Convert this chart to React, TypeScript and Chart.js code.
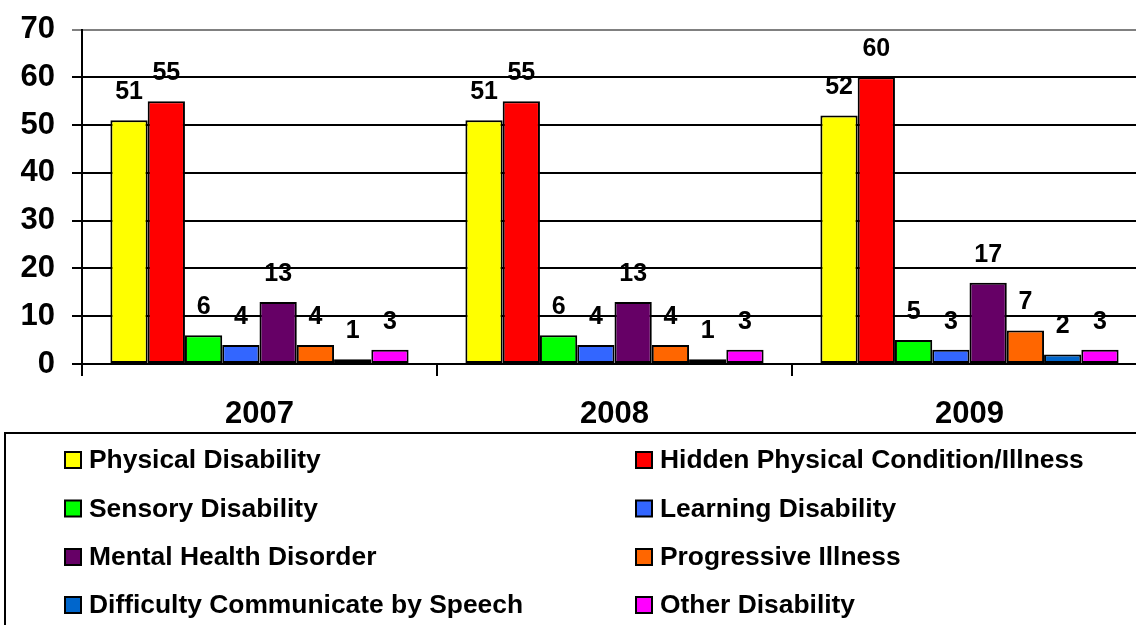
import React, { useEffect, useRef } from "react";
import { Chart, registerables } from "chart.js";

Chart.register(...registerables);

const categories = ["2007", "2008", "2009"];
const seriesNames = [
  "Physical Disability",
  "Hidden Physical Condition/Illness",
  "Sensory Disability",
  "Learning Disability",
  "Mental Health Disorder",
  "Progressive Illness",
  "Difficulty Communicate by Speech",
  "Other Disability",
];
const physical = [51, 51, 52];
const hidden = [55, 55, 60];
const sensory = [6, 6, 5];
const learning = [4, 4, 3];
const mental = [13, 13, 17];
const progressive = [4, 4, 7];
const speech = [1, 1, 2];
const other = [3, 3, 3];
const seriesValues = [physical, hidden, sensory, learning, mental, progressive, speech, other];
const seriesColors = ["#FFFF00", "#FF0000", "#00FF00", "#3366FF", "#660066", "#FF6600", "#0066CC", "#FF00FF"];
const yTicks = [0, 10, 20, 30, 40, 50, 60, 70];

const FONT = "'Liberation Sans', Arial, sans-serif";
const W = 1150;
const H = 625;

const labelsPlugin = {
  id: "valueLabels",
  afterDatasetsDraw(chart: any) {
    const ctx = chart.ctx;
    ctx.save();
    ctx.font = `bold 25px ${FONT}`;
    ctx.fillStyle = "#000";
    ctx.textAlign = "center";
    ctx.textBaseline = "middle";
    chart.data.datasets.forEach((ds: any, i: number) => {
      const meta = chart.getDatasetMeta(i);
      meta.data.forEach((bar: any, j: number) => {
        ctx.fillText(String(ds.data[j]), bar.x, bar.y - 28);
      });
    });
    ctx.restore();
  },
};

const legendPlugin = {
  id: "boxLegend",
  afterDraw(chart: any) {
    const ctx = chart.ctx;
    ctx.save();
    ctx.strokeStyle = "#000";
    ctx.lineWidth = 2;
    ctx.strokeRect(5, 433, W + 20, H);
    ctx.font = `bold 26.4px ${FONT}`;
    ctx.textAlign = "left";
    ctx.textBaseline = "middle";
    const colX = [65, 636];
    const rowY = [460, 508.5, 557, 605];
    chart.data.datasets.forEach((ds: any, i: number) => {
      const x = colX[i % 2];
      const y = rowY[Math.floor(i / 2)];
      ctx.fillStyle = ds.backgroundColor;
      ctx.fillRect(x, y - 8, 16, 16);
      ctx.lineWidth = 2;
      ctx.strokeStyle = "#000";
      ctx.strokeRect(x, y - 8, 16, 16);
      ctx.fillStyle = "#000";
      ctx.fillText(ds.label, x + 24, y + 1);
    });
    ctx.restore();
  },
};

export default function App() {
  const ref = useRef<HTMLCanvasElement | null>(null);
  useEffect(() => {
    if (!ref.current) return;
    const chart = new Chart(ref.current, {
      type: "bar",
      data: {
        labels: categories,
        datasets: seriesNames.map((name, i) => ({
          label: name,
          data: seriesValues[i],
          backgroundColor: seriesColors[i],
          borderColor: "#000",
          borderWidth: 2,
          borderSkipped: false,
          categoryPercentage: 0.84,
          barPercentage: 1.0,
        })),
      },
      options: {
        animation: false,
        responsive: false,
        devicePixelRatio: 1,
        layout: { autoPadding: false, padding: { top: 29.5, right: 3, left: 0, bottom: 0 } },
        plugins: { legend: { display: false }, tooltip: { enabled: false } },
        scales: {
          x: {
            offset: true,
            grid: {
              offset: true,
              drawOnChartArea: false,
              drawTicks: true,
              tickLength: 12,
              color: "#000",
              lineWidth: 2,
            },
            border: { color: "#000", width: 2 },
            ticks: {
              color: "#000",
              font: { family: FONT, weight: "bold", size: 31 },
              padding: 20,
            },
            afterFit(scale: any) {
              scale.height = H - 364;
            },
          },
          y: {
            min: 0,
            max: 70,
            afterBuildTicks(scale: any) {
              scale.ticks = yTicks.map((v) => ({ value: v }));
            },
            grid: {
              color: (c: any) => (c.tick && c.tick.value === 70 ? "#808080" : "#000"),
              lineWidth: 2,
              tickLength: 10,
              drawTicks: true,
            },
            border: { color: "#000", width: 2 },
            ticks: {
              color: "#000",
              font: { family: FONT, weight: "bold", size: 31, lineHeight: 0.8 },
              padding: 17,
            },
            afterFit(scale: any) {
              scale.width = 82;
            },
          },
        },
      },
      plugins: [labelsPlugin, legendPlugin],
    });
    return () => chart.destroy();
  }, []);
  return (
    <div style={{ position: "fixed", left: 0, top: 0, width: 1136, height: 625, overflow: "hidden", background: "#fff" }}>
      <canvas ref={ref} width={W} height={H} style={{ width: W, height: H, display: "block" }} />
    </div>
  );
}
